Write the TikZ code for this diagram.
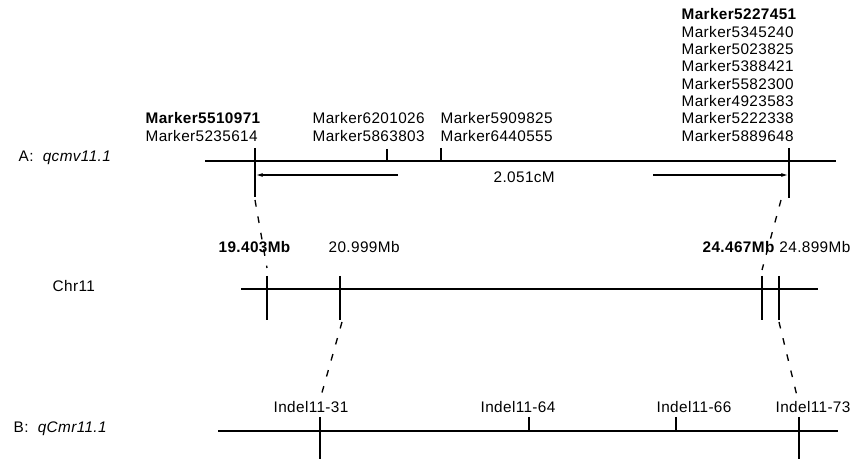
\documentclass[tikz,border=0pt]{standalone}
\usepackage{fontspec}
\setmainfont{Liberation Sans}[LetterSpace=2.5]
\usetikzlibrary{arrows.meta, positioning}
\tikzset{
  every picture/.style={font=\fontsize{11.5}{13}\selectfont, line width=1pt},
  bar/.style={draw=black, line width=1pt},
  link/.style={draw=black, line width=1pt, dash pattern=on 5pt off 7.5pt},
  span/.style={-{Latex[length=5pt, width=3pt]}, draw=black, line width=0.9pt},
  lbl/.style={inner sep=0pt, align=left},
}

\begin{document}
\begin{tikzpicture}[x=0.75pt, y=-0.75pt]
  \useasboundingbox (0,0) rectangle (853,459);
  % A: genetic map
  \node[lbl, anchor=base west] (nameA) at (18,162) {A:\ \ \textit{qcmv11.1}};
  \coordinate (aL) at (205,161);
  \coordinate (aR) at (836,161);
  \draw[bar] (aL) -- (aR);
  \foreach \n/\x/\t/\b in {a1/255/148/197, a2/387/149/161, a3/441/148/161, a4/789/148/198} {
    \coordinate (\n-t) at (\x,\t);
    \coordinate (\n-b) at (\x,\b);
    \draw[bar] (\n-t) -- (\n-b);
  }
  \node[lbl, anchor=south west] (mkA) at (145,142) {\textbf{Marker5510971}\\Marker5235614};
  \node[lbl, anchor=south west] (mkB) at (312,142) {Marker6201026\\Marker5863803};
  \node[lbl, anchor=south west] (mkC) at (440,142) {Marker5909825\\Marker6440555};
  \node[lbl, anchor=south west] (mkD) at (681,142) {\textbf{Marker5227451}\\Marker5345240\\Marker5023825\\Marker5388421\\Marker5582300\\Marker4923583\\Marker5222338\\Marker5889648};
  % interval
  \coordinate (sL0) at (398,175);
  \coordinate (sL1) at (256,175);
  \coordinate (sR0) at (653,175);
  \coordinate (sR1) at (788,175);
  \draw[span] (sL0) -- (sL1);
  \draw[span] (sR0) -- (sR1);
  \node[lbl, anchor=base west] (dist) at (493,183) {2.051cM};
  % Chr11: physical map
  \node[lbl, anchor=base west] (nameC) at (52,292) {Chr11};
  \coordinate (cL) at (241,289);
  \coordinate (cR) at (818,289);
  \draw[bar] (cL) -- (cR);
  \foreach \n/\x in {c1/267, c2/340, c3/762, c4/779} {
    \coordinate (\n-t) at (\x,276);
    \coordinate (\n-b) at (\x,320);
    \draw[bar] (\n-t) -- (\n-b);
  }
  \node[lbl, anchor=base west] (pos1) at (218,253) {\textbf{19.403Mb}};
  \node[lbl, anchor=base west] (pos2) at (328,253) {20.999Mb};
  \node[lbl, anchor=base west] (pos3) at (702,253) {\textbf{24.467Mb}};
  \node[lbl, anchor=base east] (pos4) at (851,253) {24.899Mb};
  % B: second map
  \node[lbl, anchor=base west] (nameB) at (13,432) {B:\ \ \textit{qCmr11.1}};
  \coordinate (bL) at (218,431);
  \coordinate (bR) at (838,431);
  \draw[bar] (bL) -- (bR);
  \foreach \n/\x/\b in {b1/320/459, b2/529/431, b3/676/431, b4/799/459} {
    \coordinate (\n-t) at (\x,417);
    \coordinate (\n-b) at (\x,\b);
    \draw[bar] (\n-t) -- (\n-b);
  }
  \node[lbl, anchor=base west] (id31) at (273,412) {Indel11-31};
  \node[lbl, anchor=base west] (id64) at (480,412) {Indel11-64};
  \node[lbl, anchor=base west] (id66) at (656,412) {Indel11-66};
  \node[lbl, anchor=base west] (id73) at (775,412) {Indel11-73};
  % dashed links between maps
  \coordinate (k1) at (255,200);
  \coordinate (k2) at (267,268);
  \coordinate (k3) at (781,200);
  \coordinate (k4) at (762,270);
  \coordinate (k5) at (342,322);
  \coordinate (k6) at (321,396);
  \coordinate (k7) at (779,322);
  \coordinate (k8) at (797,396);
  \foreach \u/\v in {k1/k2, k3/k4, k5/k6, k7/k8} \draw[link] (\u) -- (\v);
\end{tikzpicture}
\end{document}
